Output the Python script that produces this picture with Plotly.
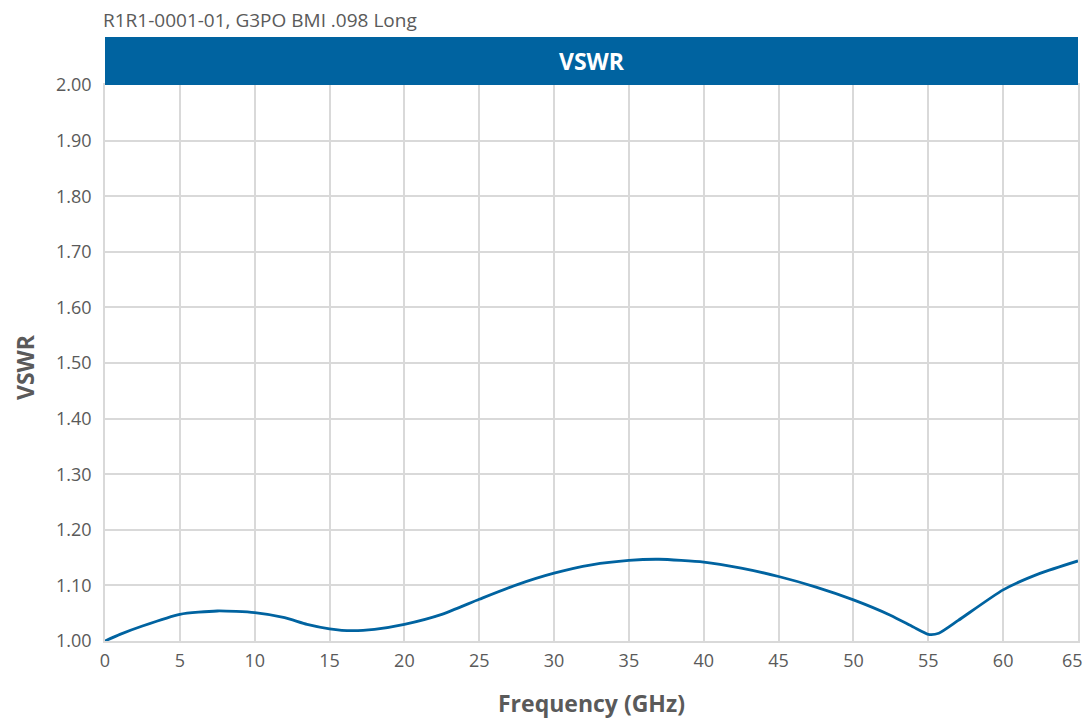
import plotly.graph_objects as go

# VSWR curve
freq_ghz = [0, 1, 2.5, 5, 7.5, 10, 12, 13.5, 15, 16.5, 18, 20, 22.5, 25, 27.5,
            30, 32.5, 35, 37, 40, 42.5, 45, 47.5, 50, 52.5, 54, 55, 55.7, 57,
            60, 62.5, 65]
vswr = [1.000, 1.012, 1.027, 1.048, 1.054, 1.051, 1.042, 1.030, 1.022, 1.0185,
        1.021, 1.030, 1.048, 1.075, 1.101, 1.122, 1.137, 1.145, 1.147, 1.142,
        1.131, 1.116, 1.097, 1.074, 1.046, 1.025, 1.012, 1.014, 1.037, 1.092,
        1.122, 1.144]

x_ticks = list(range(0, 65, 5))  # 65 is drawn separately, it sits at the page edge
x_last = 65
y_ticks = [1.0 + i / 10 for i in range(11)]

blue = "#0063a0"
grid = "#d9d9d9"
text_gray = "#5a5a5a"
font_family = "Open Sans, Noto Sans, sans-serif"

fig = go.Figure()
fig.add_trace(
    go.Scatter(
        x=freq_ghz,
        y=vswr,
        mode="lines",
        line=dict(color=blue, width=2.8, shape="spline", smoothing=0.6),
        showlegend=False,
    )
)

# page body adds an 8px offset, so the figure is sized to compensate
fig.update_layout(
    width=1076,
    height=711,
    margin=dict(l=97, r=6, t=77, b=78),
    plot_bgcolor="white",
    paper_bgcolor="white",
    font=dict(family=font_family, color=text_gray, size=18),
    xaxis=dict(
        range=[0, 65],
        tickvals=x_ticks,
        showgrid=True,
        gridcolor=grid,
        gridwidth=1.5,
        showline=True,
        linecolor=grid,
        linewidth=1.5,
        mirror=True,
        zeroline=False,
        ticks="",
        ticklabelstandoff=3,
        automargin=False,
    ),
    yaxis=dict(
        range=[1.0, 2.0],
        tickvals=y_ticks,
        tickformat=".2f",
        showgrid=True,
        gridcolor=grid,
        gridwidth=1.5,
        showline=True,
        linecolor=grid,
        linewidth=1.5,
        mirror=True,
        zeroline=False,
        ticks="",
        ticklabelstandoff=8,
        automargin=False,
    ),
)

# axis titles
fig.add_annotation(
    xref="paper", yref="paper", x=0.5, y=0,
    text="<b>Frequency (GHz)</b>", showarrow=False,
    font=dict(color=text_gray, size=23, family=font_family),
    xanchor="center", yanchor="middle", yshift=-62,
)
fig.add_annotation(
    xref="paper", yref="paper", x=0, y=0.5,
    text="<b>VSWR</b>", showarrow=False, textangle=-90,
    font=dict(color=text_gray, size=23, family=font_family),
    xanchor="center", yanchor="middle", xshift=-80, yshift=-4,
)

# last x tick label, nudged in so it is not clipped
fig.add_annotation(
    xref="x", yref="paper", x=x_last, y=0,
    text=str(x_last), showarrow=False,
    font=dict(color=text_gray, size=18, family=font_family),
    xanchor="center", yanchor="top", xshift=-6, yshift=-5,
)

# blue header bar with the chart title
fig.add_shape(
    type="rect", xref="paper", yref="paper",
    x0=0, x1=1, y0=1.0, y1=1 + 48 / 556,
    fillcolor=blue, line=dict(width=0), layer="above",
)
fig.add_annotation(
    xref="paper", yref="paper", x=0.5, y=1 + 24 / 556,
    text="<b>VSWR</b>", showarrow=False,
    font=dict(color="white", size=23, family=font_family),
    xanchor="center", yanchor="middle",
)
fig.add_annotation(
    xref="paper", yref="paper", x=0, y=1 + 65 / 556,
    text="R1R1-0001-01, G3PO BMI .098 Long", showarrow=False,
    font=dict(color=text_gray, size=19, family=font_family),
    xanchor="left", yanchor="middle", xshift=-4,
)

fig.write_html("out.html", config=dict(displayModeBar=False))
